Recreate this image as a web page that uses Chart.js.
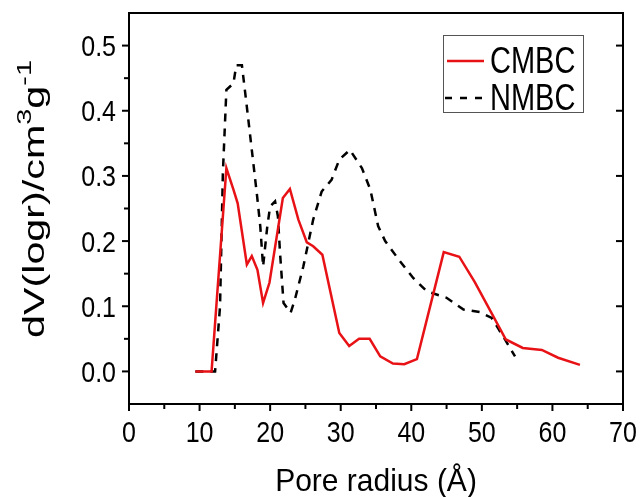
<!DOCTYPE html>
<html>
<head>
<meta charset="utf-8">
<script src="https://cdn.jsdelivr.net/npm/chart.js@4"></script>
<style>
  html, body { margin: 0; padding: 0; background: #fff; }
  #wrap { width: 642px; height: 497px; }
</style>
</head>
<body>
<div id="wrap"><canvas id="psdChart" width="642" height="497"></canvas></div>
<script>
// ===== DATA =====
const cmbcX = [9.4, 11.7, 13.8, 14.8, 15.4, 16.7, 17.4, 18.2, 19.0, 19.9, 21.8, 22.8, 24.0, 25.2, 26.1, 27.4, 29.8, 31.2, 32.6, 34.1, 35.6, 37.4, 39.0, 40.8, 44.6, 46.8, 49.0, 51.3, 53.4, 55.8, 58.5, 60.8, 63.9];
const cmbcY = [0, 0, 0.312, 0.279, 0.258, 0.164, 0.177, 0.156, 0.105, 0.136, 0.266, 0.280, 0.233, 0.198, 0.192, 0.179, 0.059, 0.039, 0.050, 0.050, 0.023, 0.012, 0.011, 0.019, 0.183, 0.176, 0.137, 0.091, 0.049, 0.036, 0.033, 0.021, 0.010];

const nmbcX = [9.4, 12.2, 12.9, 13.3, 13.8, 14.8, 15.2, 16.0, 16.7, 17.4, 18.1, 18.6, 19.0, 19.6, 20.0, 20.7, 21.1, 21.4, 21.9, 22.9, 23.5, 24.7, 26.1, 27.3, 28.7, 29.8, 31.3, 33.0, 34.2, 35.3, 36.3, 38.4, 40.3, 42.2, 45.0, 47.4, 49.7, 51.4, 53.0, 54.7];
const nmbcY = [0, 0, 0.1, 0.304, 0.432, 0.442, 0.470, 0.470, 0.406, 0.340, 0.274, 0.223, 0.161, 0.223, 0.253, 0.261, 0.238, 0.182, 0.105, 0.090, 0.110, 0.161, 0.233, 0.276, 0.294, 0.325, 0.340, 0.312, 0.279, 0.223, 0.200, 0.169, 0.143, 0.123, 0.113, 0.095, 0.091, 0.082, 0.054, 0.023];

const seriesNames = ['CMBC', 'NMBC'];
const xTicks = [0, 10, 20, 30, 40, 50, 60, 70];
const yTicks = [0, 0.1, 0.2, 0.3, 0.4, 0.5];
const xMinorTicks = [5, 15, 25, 35, 45, 55, 65];
const yMinorTicks = [0.05, 0.15, 0.25, 0.35, 0.45];
const xTitle = 'Pore radius (Å)';

const toPoints = (xs, ys) => xs.map((x, i) => ({ x: x, y: ys[i] }));

const RED = 'rgb(232, 18, 22)';
const FONT = 'Liberation Sans, Arial, sans-serif';

// text in the original figure is a bit taller than it is wide
function tallText(ctx, str, x, y, size, sy, align) {
	ctx.save();
	ctx.translate(x, y);
	ctx.scale(1, sy);
	ctx.font = size + 'px ' + FONT;
	ctx.textAlign = align;
	ctx.textBaseline = 'alphabetic';
	ctx.fillText(str, 0, 0);
	ctx.restore();
}

// ===== EXTRA DRAWING: frame, ticks, labels, legend, titles =====
const decorPlugin = {
	id: 'decor',
	afterDraw(chart) {
		const ctx = chart.ctx;
		const a = chart.chartArea;
		const xs = chart.scales.x;
		const ys = chart.scales.y;
		ctx.save();
		ctx.strokeStyle = '#000';
		ctx.fillStyle = '#000';
		ctx.lineWidth = 2;

		// top + right border
		ctx.beginPath();
		ctx.moveTo(a.left, a.top);
		ctx.lineTo(a.right, a.top);
		ctx.lineTo(a.right, a.bottom);
		ctx.stroke();

		const tick = (x1, y1, x2, y2) => {
			ctx.beginPath();
			ctx.moveTo(x1, y1);
			ctx.lineTo(x2, y2);
			ctx.stroke();
		};

		// major ticks + labels
		xTicks.forEach(v => {
			const px = xs.getPixelForValue(v);
			tick(px, a.bottom, px, a.bottom + 7);
			tallText(ctx, String(v), px, 442, 25, 1.2, 'center');
		});
		yTicks.forEach(v => {
			const py = ys.getPixelForValue(v);
			tick(a.left, py, a.left - 7, py);
			tick(a.right, py, a.right - 7, py);
			tallText(ctx, v.toFixed(1), 116, py + 10.5, 25, 1.2, 'right');
		});

		// minor ticks
		xMinorTicks.forEach(v => {
			const px = xs.getPixelForValue(v);
			tick(px, a.bottom, px, a.bottom + 5);
		});
		yMinorTicks.forEach(v => {
			const py = ys.getPixelForValue(v);
			tick(a.left, py, a.left - 5, py);
		});

		// x title
		tallText(ctx, xTitle, (a.left + a.right) / 2, 491, 30, 1.05, 'center');

		// legend
		ctx.lineWidth = 1;
		ctx.strokeStyle = '#555';
		ctx.strokeRect(443.5, 35.5, 140, 77);

		ctx.lineWidth = 2.5;
		ctx.strokeStyle = RED;
		tick(447, 61, 484, 61);

		ctx.strokeStyle = '#000';
		ctx.setLineDash([7, 8]);
		tick(445, 98, 484, 98);
		ctx.setLineDash([]);

		tallText(ctx, seriesNames[0], 490, 72.5, 29, 1.3, 'left');
		tallText(ctx, seriesNames[1], 490, 110, 29, 1.3, 'left');

		// y axis title with superscripts, stretched along its length
		const parts = [
			{ t: 'dV(logr)/cm', sup: false },
			{ t: '3', sup: true },
			{ t: 'g', sup: false },
			{ t: '-1', sup: true }
		];
		const mainFont = '30px ' + FONT;
		const supFont = '21px ' + FONT;
		let total = 0;
		parts.forEach(p => {
			ctx.font = p.sup ? supFont : mainFont;
			p.w = ctx.measureText(p.t).width;
			total += p.w;
		});
		const targetLen = 278;
		ctx.translate(44, 199);
		ctx.rotate(-Math.PI / 2);
		ctx.scale(targetLen / total, 1);
		ctx.textBaseline = 'alphabetic';
		ctx.textAlign = 'left';
		let cx = -total / 2;
		parts.forEach(p => {
			ctx.font = p.sup ? supFont : mainFont;
			ctx.fillText(p.t, cx, p.sup ? -13 : 0);
			cx += p.w;
		});

		ctx.restore();
	}
};

// ===== CHART =====
const ctx = document.getElementById('psdChart').getContext('2d');

new Chart(ctx, {
	type: 'line',
	data: {
		datasets: [{
			label: seriesNames[0],
			data: toPoints(cmbcX, cmbcY),
			borderColor: RED,
			borderWidth: 2.5,
			pointRadius: 0,
			tension: 0,
			fill: false
		}, {
			label: seriesNames[1],
			data: toPoints(nmbcX, nmbcY),
			borderColor: '#000',
			borderWidth: 2.5,
			borderDash: [8, 7],
			pointRadius: 0,
			tension: 0,
			fill: false
		}]
	},
	options: {
		responsive: false,
		animation: false,
		layout: {
			padding: { left: 0, right: 19, top: 13, bottom: 0 }
		},
		plugins: {
			legend: { display: false },
			tooltip: { enabled: false }
		},
		scales: {
			x: {
				type: 'linear',
				min: 0,
				max: 70,
				afterFit: function(scale) { scale.height = 93; },
				afterBuildTicks: function(scale) { scale.ticks = xTicks.map(v => ({ value: v })); },
				ticks: { display: false },
				grid: { display: false },
				border: { display: true, color: '#000', width: 2 }
			},
			y: {
				min: -0.05,
				max: 0.55,
				afterFit: function(scale) { scale.width = 129; },
				afterBuildTicks: function(scale) { scale.ticks = yTicks.map(v => ({ value: v })); },
				ticks: { display: false },
				grid: { display: false },
				border: { display: true, color: '#000', width: 2 }
			}
		}
	},
	plugins: [decorPlugin]
});
</script>
</body>
</html>
